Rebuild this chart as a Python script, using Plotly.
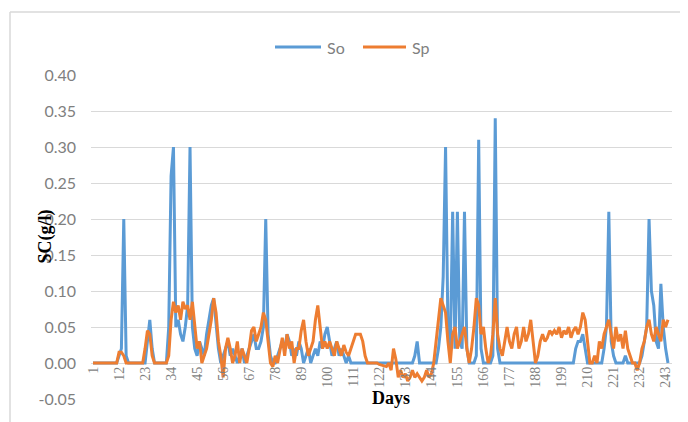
import plotly.graph_objects as go

days = list(range(1, 245))

so = [
    0, 0, 0, 0, 0, 0, 0, 0, 0, 0,
    0, 0.01, 0.02, 0.20, 0.01, 0, 0, 0, 0, 0,
    0, 0, 0, 0.03, 0.06, 0.02, 0, 0, 0, 0,
    0, 0, 0.05, 0.26, 0.30, 0.05, 0.06, 0.04, 0.03, 0.05,
    0.08, 0.30, 0.05, 0.02, 0.01, 0.03, 0.02, 0.01, 0.04, 0.06,
    0.08, 0.09, 0.05, 0.02, 0.0, 0.01, 0.02, 0.03, 0.01, 0.02,
    0.01, 0.0, 0.01, 0.02, 0.0, 0.01, 0.02, 0.03, 0.04, 0.02,
    0.02, 0.03, 0.05, 0.20, 0.04, 0.01, 0.0, 0.0, 0.01, 0.02,
    0.03, 0.02, 0.04, 0.03, 0.01, 0.02, 0.01, 0.03, 0.02, 0.0,
    0.01, 0.02, 0.0, 0.01, 0.02, 0.01, 0.03, 0.02, 0.04, 0.05,
    0.03, 0.01, 0.02, 0.03, 0.01, 0.02, 0.01, 0.0, 0.01, 0.0,
    0, 0, 0, 0, 0, 0, 0, 0, 0, 0,
    0, 0, 0, 0, 0, 0, 0, 0, 0, 0,
    0, 0, 0, 0, 0, 0, 0.01, 0.03, 0.0, 0,
    0, 0, 0, 0, 0, 0, 0.02, 0.05, 0.12, 0.30,
    0.05, 0.02, 0.21, 0.02, 0.21, 0.03, 0.02, 0.21, 0.02, 0.0,
    0, 0, 0.01, 0.31, 0.02, 0, 0, 0, 0, 0.01,
    0.34, 0.02, 0, 0, 0, 0, 0, 0, 0, 0,
    0, 0, 0, 0, 0, 0, 0, 0, 0, 0,
    0, 0, 0, 0, 0, 0, 0, 0, 0, 0,
    0, 0, 0, 0, 0.02, 0.03, 0.03, 0.04, 0.02, 0,
    0, 0, 0, 0, 0, 0, 0.02, 0.05, 0.21, 0.03,
    0.01, 0, 0, 0, 0, 0.01, 0, 0, 0, 0,
    0, 0, 0.01, 0.03, 0.05, 0.20, 0.10, 0.08, 0.03, 0.02,
    0.11, 0.05, 0.02, 0.0,
]

sp = [
    0, 0, 0, 0, 0, 0, 0, 0, 0, 0,
    0, 0.015, 0.015, 0.01, 0.0, 0, 0, 0, 0, 0,
    0, 0, 0.02, 0.045, 0.04, 0.01, 0, 0, 0, 0,
    0, 0, 0.01, 0.06, 0.085, 0.07, 0.08, 0.06, 0.085, 0.075,
    0.08, 0.06, 0.085, 0.05, 0.02, 0.03, 0.0, 0.01, 0.02, 0.04,
    0.06, 0.09, 0.07, 0.03, 0.01, -0.02, 0.02, 0.035, 0.02, 0.0,
    0.01, 0.03, 0.0, 0.02, 0.01, 0.0, 0.02, 0.045, 0.05, 0.03,
    0.04, 0.05, 0.07, 0.06, 0.03, 0.0, -0.005, 0.01, 0.0, 0.02,
    0.035, 0.01, 0.04, 0.02, 0.03, 0.0, 0.02, 0.02, 0.045, 0.06,
    0.03, 0.01, 0.02, 0.03, 0.06, 0.08, 0.05, 0.02, 0.03, 0.02,
    0.03, 0.02, 0.01, 0.03, 0.02, 0.01, 0.025, 0.015, 0.01, 0.02,
    0.03, 0.04, 0.04, 0.04, 0.03, 0.01, 0.0, 0.0, 0.0, 0.0,
    0, -0.002, -0.003, -0.005, -0.005, 0.0, -0.01, 0.02, 0.005, -0.02,
    -0.01, -0.02, -0.015, -0.025, -0.02, -0.01, -0.02, -0.015, -0.02, -0.025,
    -0.02, -0.01, -0.02, -0.015, 0.0, 0.03, 0.06, 0.09, 0.08, 0.07,
    0.03, 0.0, 0.04, 0.05, 0.02, 0.03, 0.04, 0.05, 0.02, 0.0,
    0.02, 0.05, 0.09, 0.08, 0.04, 0.05, 0.02, 0.0, 0.01, 0.04,
    0.09, 0.04, 0.02, 0.01, 0.03, 0.05, 0.03, 0.02, 0.04, 0.05,
    0.02, 0.03, 0.05, 0.03, 0.04, 0.06, 0.03, 0.0, 0.01, 0.03,
    0.04, 0.03, 0.035, 0.045, 0.04, 0.045, 0.04, 0.05, 0.035, 0.045,
    0.04, 0.05, 0.035, 0.045, 0.05, 0.04, 0.05, 0.07, 0.06, 0.03,
    0.0, 0.0, 0.01, 0.0, 0.03, 0.02, 0.04, 0.05, 0.06, 0.04,
    0.02, 0.05, 0.03, 0.04, 0.02, 0.045, 0.02, 0.01, 0.0, 0.0,
    -0.01, 0.0, 0.02, 0.03, 0.05, 0.06, 0.04, 0.03, 0.05, 0.04,
    0.03, 0.06, 0.05, 0.06,
]

tick_days = [1, 12, 23, 34, 45, 56, 67, 78, 89, 100, 111, 122, 133, 144,
             155, 166, 177, 188, 199, 210, 221, 232, 243]
y_ticks = [-0.05, 0.0, 0.05, 0.10, 0.15, 0.20, 0.25, 0.30, 0.35, 0.40]
y_min, y_max = -0.05, 0.40

# page body adds an 8px offset; work in figure pixels = screen pixels - 8
OFF = 8
W, H = 688, 422
L, T = 91 - OFF, 75 - OFF
R = W - (672 - OFF)
B = H - (399 - OFF)
pw, ph = W - L - R, H - T - B


def px(sx):
    return (sx - OFF - L) / pw


def py(sy):
    return (H - B - (sy - OFF)) / ph


blue, orange = "#5b9bd5", "#ed7d31"
gray = "#7f7f7f"
serif = "Liberation Serif, Times New Roman, serif"

fig = go.Figure()
fig.add_trace(go.Scatter(x=days, y=so, name="So", mode="lines",
                         line=dict(color=blue, width=3)))
fig.add_trace(go.Scatter(x=days, y=sp, name="Sp", mode="lines",
                         line=dict(color=orange, width=3)))

fig.update_layout(
    width=W, height=H,
    margin=dict(l=L, r=R, t=T, b=B, autoexpand=False),
    paper_bgcolor="white", plot_bgcolor="white",
    font=dict(family="Lato, Open Sans, sans-serif", color=gray),
    showlegend=False,
    xaxis=dict(range=[0.15, 245.7], tickmode="array", tickvals=tick_days,
               ticktext=[str(d) for d in tick_days], tickangle=-90,
               tickfont=dict(family=serif, size=14, color=gray), showgrid=False,
               zeroline=False, showline=False, ticks="",
               anchor="free", position=(0 - y_min) / (y_max - y_min)),
    yaxis=dict(range=[y_min, y_max], tickmode="array", tickvals=y_ticks,
               ticktext=[f"{v:.2f}" for v in y_ticks],
               tickfont=dict(size=16, color=gray), showgrid=True,
               gridcolor="#d9d9d9", gridwidth=1, zeroline=False,
               showline=False, ticks="", ticklabelstandoff=14),
)

# legend (top centre)
for (x0, x1, tx, name, col) in [(275, 321, 325, "So", blue), (363, 406, 410, "Sp", orange)]:
    fig.add_shape(type="line", xref="paper", yref="paper",
                  x0=px(x0), x1=px(x1), y0=py(47), y1=py(47),
                  line=dict(color=col, width=3))
    fig.add_annotation(text=name, xref="paper", yref="paper", x=px(tx), y=py(47),
                       xanchor="left", yanchor="middle", showarrow=False,
                       font=dict(size=16, color=gray))

fig.add_annotation(text="<b>SC(g/l)</b>", xref="paper", yref="paper",
                   x=px(32), y=0.5, textangle=-90, showarrow=False,
                   font=dict(family=serif, size=18, color="#000000"))
fig.add_annotation(text="<b>Days</b>", xref="paper", yref="paper",
                   x=px(391), y=py(410), showarrow=False,
                   font=dict(family=serif, size=18, color="#000000"))

border = "#d9d9d9"
for x0, y0, x1, y1 in [(10, 12, 681, 12), (10, 12, 10, 430), (681, 12, 681, 430)]:
    fig.add_shape(type="line", xref="paper", yref="paper",
                  x0=px(x0), y0=py(y0), x1=px(x1), y1=py(y1),
                  line=dict(color=border, width=1.5), layer="below")

fig.write_html("out.html")
